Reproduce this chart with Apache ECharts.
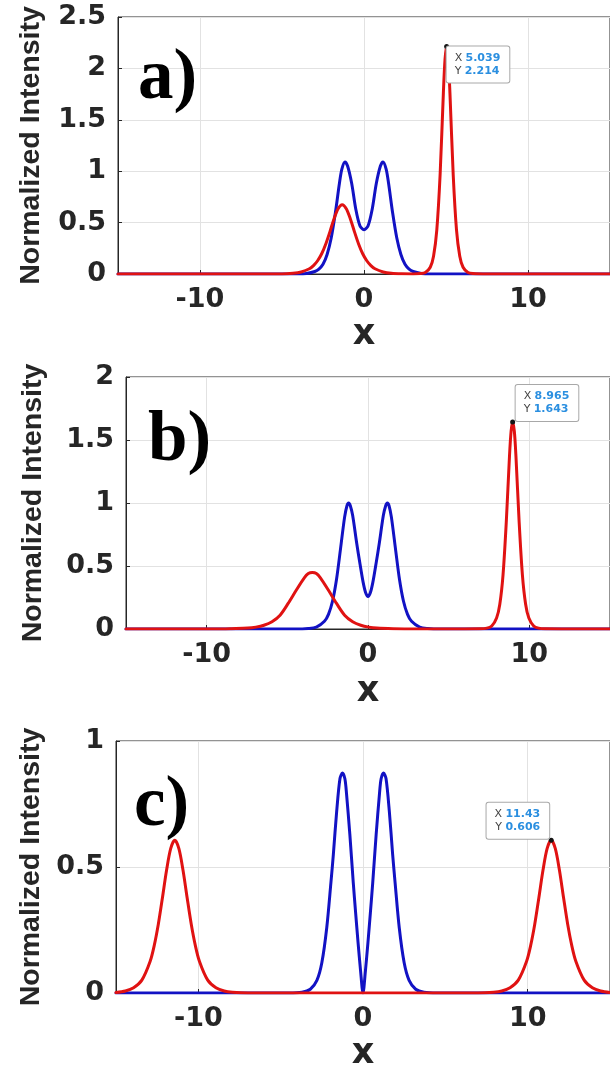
<!DOCTYPE html>
<html>
<head>
<meta charset="utf-8">
<script src="https://cdn.jsdelivr.net/npm/echarts@6/dist/echarts.min.js"></script>
<style>
html,body{margin:0;padding:0;background:#fff;}
#chart{width:610px;height:1072px;}
</style>
</head>
<body>
<div id="chart"></div>
<script>
// ---- Data ----
const xTicks = [-10, 0, 10];
const yTicksA = [0, 0.5, 1, 1.5, 2, 2.5];
const yTicksB = [0, 0.5, 1, 1.5, 2];
const yTicksC = [0, 0.5, 1];
const panelTags = ['a)', 'b)', 'c)'];

// panel a
const aBlue = [[-15,0],[-4,0],[-3.5,0.005],[-3,0.024],[-2.75,0.048],[-2.5,0.095],[-2.25,0.19],[-2,0.35],[-1.75,0.59],[-1.5,0.88],[-1.35,1.02],[-1.16,1.09],[-1,1.05],[-0.75,0.88],[-0.5,0.63],[-0.25,0.47],[0,0.43],[0.25,0.47],[0.5,0.63],[0.75,0.88],[1,1.05],[1.16,1.09],[1.35,1.02],[1.5,0.88],[1.75,0.59],[2,0.35],[2.25,0.19],[2.5,0.095],[2.75,0.048],[3,0.024],[3.5,0.005],[4,0],[15,0]];
const aRed = [[-15,0],[-5,0],[-4.33,0.007],[-3.83,0.02],[-3.33,0.051],[-3.08,0.082],[-2.83,0.129],[-2.58,0.197],[-2.33,0.292],[-2.08,0.41],[-1.83,0.535],[-1.58,0.635],[-1.33,0.674],[-1.08,0.635],[-0.83,0.535],[-0.58,0.41],[-0.33,0.292],[-0.08,0.197],[0.17,0.129],[0.42,0.082],[0.67,0.051],[1.17,0.02],[1.67,0.007],[2.3,0.002],[3,0.001],[3.44,0.004],[3.74,0.015],[4.04,0.066],[4.24,0.173],[4.44,0.43],[4.64,0.963],[4.84,1.762],[4.94,2.087],[5.039,2.214],[5.14,2.087],[5.24,1.762],[5.44,0.963],[5.64,0.43],[5.84,0.173],[6.04,0.066],[6.34,0.015],[6.64,0.004],[7.5,0],[15,0]];
const aTip = [5.039, 2.214];

// panel b
const bBlue = [[-15,0],[-4.5,0],[-3.7,0.004],[-3.2,0.015],[-2.7,0.061],[-2.45,0.116],[-2.2,0.22],[-1.95,0.395],[-1.7,0.64],[-1.45,0.888],[-1.3,0.98],[-1.2,1.0],[-1.1,0.98],[-0.95,0.9],[-0.7,0.68],[-0.5,0.52],[-0.3,0.37],[-0.15,0.29],[0,0.258],[0.15,0.29],[0.3,0.37],[0.5,0.52],[0.7,0.68],[0.95,0.9],[1.1,0.98],[1.2,1.0],[1.3,0.98],[1.45,0.888],[1.7,0.64],[1.95,0.395],[2.2,0.22],[2.45,0.116],[2.7,0.061],[3.2,0.015],[3.7,0.004],[4.5,0],[15,0]];
const bRed = [[-15,0],[-9,0],[-8.45,0.002],[-7.45,0.007],[-6.95,0.015],[-6.45,0.03],[-5.95,0.058],[-5.45,0.11],[-4.95,0.203],[-4.45,0.307],[-3.95,0.406],[-3.7,0.44],[-3.45,0.448],[-3.2,0.44],[-2.95,0.406],[-2.45,0.307],[-1.95,0.203],[-1.45,0.11],[-0.95,0.058],[-0.45,0.03],[0.05,0.015],[0.55,0.007],[1.55,0.002],[3,0],[6,0],[6.97,0.001],[7.37,0.007],[7.67,0.024],[7.97,0.087],[8.17,0.197],[8.37,0.43],[8.57,0.846],[8.77,1.372],[8.87,1.57],[8.965,1.643],[9.07,1.57],[9.17,1.372],[9.37,0.846],[9.57,0.43],[9.77,0.197],[9.97,0.087],[10.27,0.024],[10.57,0.007],[10.97,0.001],[12,0],[15,0]];
const bTip = [8.965, 1.643];

// panel c
const cBlue = [[-15,0],[-4.5,0],[-3.7,0.003],[-3.2,0.015],[-2.8,0.05],[-2.5,0.12],[-2.2,0.26],[-1.95,0.437],[-1.8,0.55],[-1.6,0.72],[-1.4,0.85],[-1.25,0.873],[-1.1,0.85],[-1,0.79],[-0.8,0.63],[-0.59,0.437],[-0.45,0.32],[-0.3,0.2],[-0.15,0.09],[0,0],[0.15,0.09],[0.3,0.2],[0.45,0.32],[0.59,0.437],[0.8,0.63],[1,0.79],[1.1,0.85],[1.25,0.873],[1.4,0.85],[1.6,0.72],[1.8,0.55],[1.95,0.437],[2.2,0.26],[2.5,0.12],[2.8,0.05],[3.2,0.015],[3.7,0.003],[4.5,0],[15,0]];
const cRed = [[-15,0.002],[-14.43,0.008],[-13.93,0.021],[-13.43,0.051],[-12.93,0.125],[-12.68,0.188],[-12.43,0.273],[-12.18,0.378],[-11.93,0.487],[-11.68,0.573],[-11.43,0.606],[-11.18,0.573],[-10.93,0.487],[-10.68,0.378],[-10.43,0.273],[-10.18,0.188],[-9.93,0.125],[-9.43,0.051],[-8.93,0.021],[-8.43,0.008],[-7.93,0.003],[-7,0],[7,0],[7.93,0.003],[8.43,0.008],[8.93,0.021],[9.43,0.051],[9.93,0.125],[10.18,0.188],[10.43,0.273],[10.68,0.378],[10.93,0.487],[11.18,0.573],[11.43,0.606],[11.68,0.573],[11.93,0.487],[12.18,0.378],[12.43,0.273],[12.68,0.188],[12.93,0.125],[13.43,0.051],[13.93,0.021],[14.43,0.008],[15,0.002]];
const cTip = [11.43, 0.606];

// ---- Styling ----
const BLUE = '#1212c4';
const RED = '#e01212';
const AX = '#262626';
const SANS = "'Liberation Sans', Arial, sans-serif";
const WIDE = "'DejaVu Sans', 'Liberation Sans', sans-serif";

const grids = [
  {left:118, top:17, right:-6, height:257},
  {left:126, top:377, right:-7, height:252},
  {left:116, top:741, right:-6, height:257}
];
const yMax = [2.5, 2, 1];
const yNameGap = [72, 78, 70];
const xNameGap = [43, 45, 43];

function xAxisFor(i){
  return {
    type:'value', gridIndex:i, min:-15, max:15,
    name:'x', nameLocation:'middle', nameGap:xNameGap[i],
    nameTextStyle:{fontFamily:WIDE, fontWeight:'bold', fontSize:35, color:AX},
    axisLine:{show:true, onZero:false, lineStyle:{color:AX, width:1}},
    axisTick:{show:true, inside:true, length:4, customValues:xTicks, lineStyle:{color:AX}},
    axisLabel:{customValues:xTicks, fontFamily:WIDE, fontWeight:'bold', fontSize:27, color:AX, margin:12},
    splitLine:{show:true, lineStyle:{color:'#e2e2e2', width:1}}
  };
}
function yAxisFor(i){
  return {
    type:'value', gridIndex:i, min:0, max:yMax[i], interval:0.5,
    name:'Normalized Intensity', nameLocation:'middle', nameGap:yNameGap[i],
    nameTextStyle:{fontFamily:SANS, fontWeight:'bold', fontSize:28.5, color:AX},
    axisLine:{show:true, onZero:false, lineStyle:{color:AX, width:1}},
    axisTick:{show:true, inside:true, length:4, lineStyle:{color:AX}},
    axisLabel:{fontFamily:WIDE, fontWeight:'bold', fontSize:27, color:AX, margin:12,
      formatter: v => String(v)},
    splitLine:{show:true, lineStyle:{color:'#e2e2e2', width:1}}
  };
}
function tipLabel(p, pos, align, valign){
  return {
    show:true, position:pos, align:align, verticalAlign:valign,
    formatter:'{k|X} {v|' + p[0] + '}\n{k|Y} {v|' + p[1] + '}',
    backgroundColor:'#ffffff', borderColor:'#a8a8a8', borderWidth:1, borderRadius:2,
    padding:[5,9,5,8], lineHeight:13,
    rich:{
      k:{fontFamily:WIDE, fontSize:11, color:'#444', lineHeight:13},
      v:{fontFamily:WIDE, fontSize:11, fontWeight:'bold', color:'#2b8fe0', lineHeight:13}
    }
  };
}
function tipMark(p, pos, align, valign){
  return {
    symbol:'circle', symbolSize:5, silent:true,
    itemStyle:{color:'#151515'},
    label: tipLabel(p, pos, align, valign),
    data:[{coord:p}]
  };
}
function line(i, data, color, mp){
  const s = {
    type:'line', xAxisIndex:i, yAxisIndex:i, data:data,
    showSymbol:false, symbol:'none', smooth:0.3,
    lineStyle:{color:color, width:3, join:'round', cap:'round'}, itemStyle:{color:color},
    animation:false, clip:true
  };
  if (mp) s.markPoint = mp;
  return s;
}

const tagPos = [[138,44],[148,406],[134,771]];

const option = {
  backgroundColor:'#ffffff',
  animation:false,
  grid: grids.map(g => Object.assign({show:true, borderColor:AX, borderWidth:1, backgroundColor:'transparent'}, g)),
  xAxis: [0,1,2].map(xAxisFor),
  yAxis: [0,1,2].map(yAxisFor),
  series: [
    line(0, aBlue, BLUE),
    line(0, aRed, RED, tipMark(aTip, [2.5, 2.5], 'left', 'top')),
    line(1, bBlue, BLUE),
    line(1, bRed, RED, tipMark(bTip, [5.5, 1.5], 'left', 'bottom')),
    line(2, cBlue, BLUE),
    line(2, cRed, RED, tipMark(cTip, [0.5, 1], 'right', 'bottom'))
  ],
  graphic: panelTags.map((t, i) => ({
    type:'text', left:tagPos[i][0], top:tagPos[i][1], z:100,
    style:{text:t, font:"bold 71px 'Liberation Serif', 'Times New Roman', serif", fill:'#000'}
  }))
};

const chart = echarts.init(document.getElementById('chart'), null, {renderer:'canvas'});
chart.setOption(option);
</script>
</body>
</html>
